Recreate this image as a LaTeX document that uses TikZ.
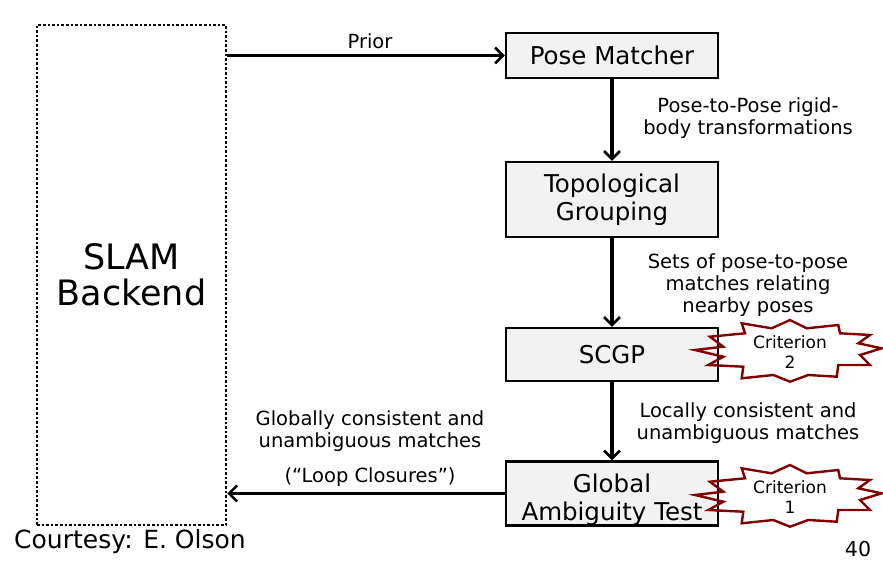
\documentclass[tikz,border=0pt]{standalone}
\usepackage{fontspec}
\setmainfont{DejaVu Sans}
\usepackage{xcolor}
\usetikzlibrary{arrows.meta,calc}

\definecolor{boxgray}{RGB}{242,242,242}
\definecolor{burstred}{RGB}{128,0,0}

\tikzset{
  stage/.style={draw=black, line width=2.2pt, fill=boxgray, minimum width=212pt,
    align=center, inner sep=0pt, font=\fontsize{24.5}{28}\selectfont},
  flow/.style={line width=3.2pt, -{Straight Barb[length=8pt,width=16pt,line width=2.6pt]}},
  note/.style={align=center, inner sep=0pt, font=\fontsize{19.5}{22}\selectfont},
  burst/.style={draw=burstred, line width=2.4pt, line join=miter},
  criterion/.pic={
    % star outline around the criterion label
    \draw[burst] (0,-31) -- (16.7,-22.7) -- (48.3,-26) -- (50,-17.7) -- (80,-16)
      -- (68.3,-7.7) -- (91.7,-2.7) -- (70,4) -- (80,14) -- (48.3,14) -- (46.7,25.7)
      -- (18.3,24) -- (0,30.7) -- (-16.7,24) -- (-48.3,27.3) -- (-46.7,15.7)
      -- (-81.7,14) -- (-66.7,5.7) -- (-95,-1) -- (-66.7,-4.3) -- (-80,-14.3)
      -- (-45,-17.7) -- (-48.3,-27.7) -- (-18.3,-22.7) -- cycle;
  }
}

\begin{document}
\begin{tikzpicture}[x=1pt, y=-1pt]
  \useasboundingbox (0,0) rectangle (883,562);

  % backend box
  \node[draw=black, dotted, line width=2.6pt, minimum width=189pt, minimum height=500pt,
    align=center, font=\fontsize{35}{36}\selectfont] (slam) at (131.5,275) {SLAM\\Backend};

  % pipeline stages
  \node[stage, minimum height=45pt] (pm) at (612,55.5) {Pose Matcher};
  \node[stage, minimum height=75pt] (tg) at (612,199.5) {Topological\\Grouping};
  \node[stage, minimum height=53pt] (scgp) at (612,354.5) {SCGP};
  % text sits a little low in this box
  \node[stage, minimum height=59pt] (gat) at (612,493.5) {\rule{0pt}{31pt}Global\\Ambiguity Test};

  % criteria
  \pic at (790,351) {criterion};
  \node[note, font=\fontsize{17}{20}\selectfont] (crit2) at (790,352) {Criterion\\2};
  \pic at (790,496) {criterion};
  \node[note, font=\fontsize{17}{20}\selectfont] (crit1) at (790,497) {Criterion\\1};

  % connectors
  \draw[flow] (slam.east |- pm.west) -- (pm.west);
  \draw[flow] (pm) -- (tg);
  \draw[flow] (tg) -- (scgp);
  \draw[flow] (scgp) -- (gat);
  \draw[flow] (gat.west) -- (slam.east |- gat.west);

  % labels
  \node[note] (prior) at (370,41) {Prior};
  \node[note] (rigid) at (748,118) {Pose-to-Pose rigid-\\body transformations};
  \node[note] (sets) at (748,285) {Sets of pose-to-pose\\matches relating\\nearby poses};
  \node[note] (local) at (748,423) {Locally consistent and\\unambiguous matches};
  \node[note] (global) at (370,431) {Globally consistent and\\unambiguous matches};
  \node[note] (loop) at (370,477) {(“Loop Closures”)};

  \node[font=\fontsize{25}{28}\selectfont, inner sep=0pt] (credit) at (130,542) {Courtesy: E. Olson};
  \node[font=\fontsize{20.5}{22}\selectfont, inner sep=0pt] (page) at (858,549) {40};
\end{tikzpicture}
\end{document}
